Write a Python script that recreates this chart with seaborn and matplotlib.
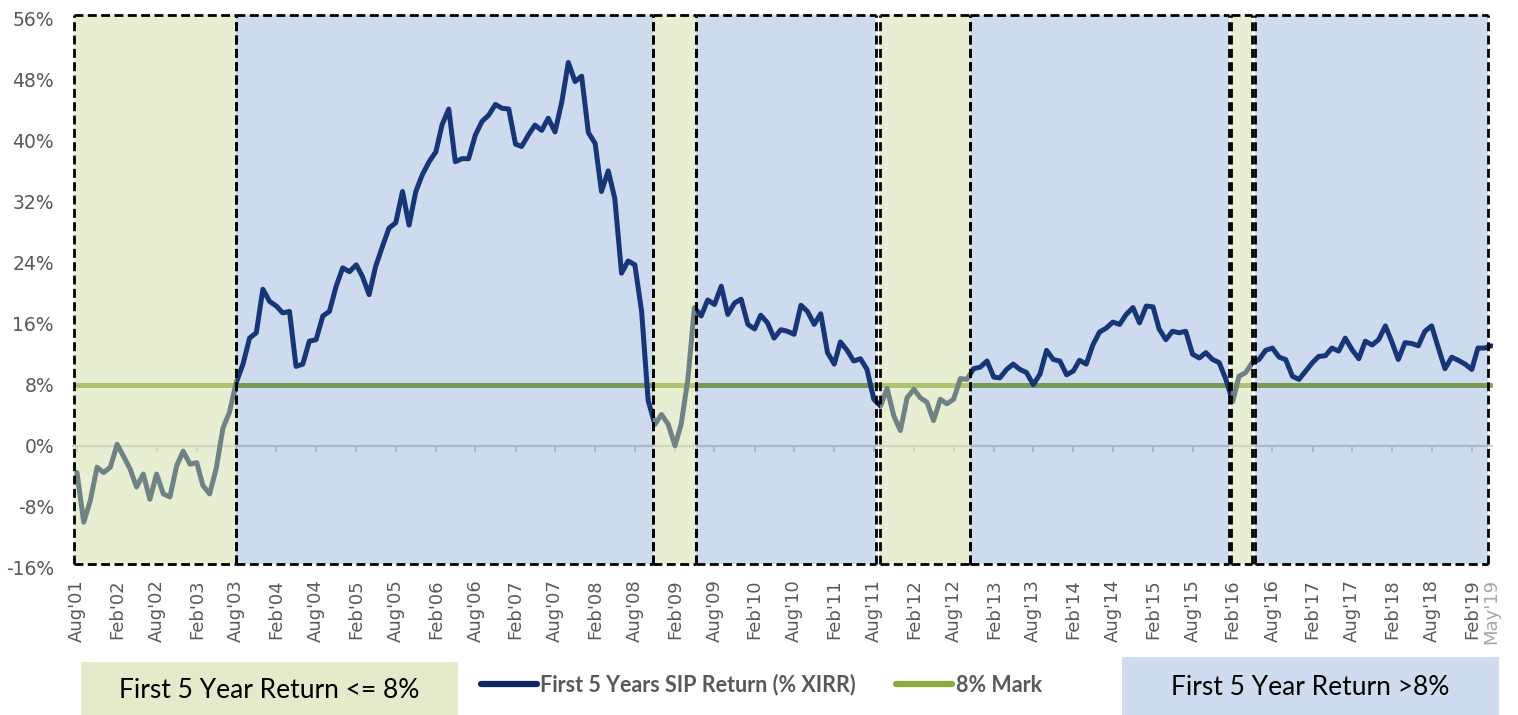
import pandas as pd
import matplotlib.pyplot as plt
import matplotlib.dates as mdates
from matplotlib.patches import Rectangle
from matplotlib.lines import Line2D
import seaborn as sns

sns.set_style('white')
plt.rcParams['font.family'] = ['DejaVu Sans']

# ---------------- data ----------------
# monthly first-5-year SIP XIRR (%), Aug'01 .. May'19
start_month = '2001-08-01'
end_month = '2019-05-01'
sip_return = [
    -3.5, -10.0, -7.2, -2.8, -3.5, -2.8, 0.2, -1.3, -3.0, -5.4, -3.7, -7.0,
    -3.7, -6.3, -6.7, -2.6, -0.7, -2.4, -2.2, -5.2, -6.3, -3.0, 2.3, 4.4,
    8.3, 10.7, 14.1, 14.8, 20.5, 18.9, 18.3, 17.4, 17.6, 10.4, 10.7, 13.7,
    13.9, 17.0, 17.6, 20.9, 23.3, 22.8, 23.7, 22.2, 19.8, 23.5, 26.1, 28.5,
    29.2, 33.3, 28.9, 33.3, 35.5, 37.2, 38.5, 42.0, 44.1, 37.2, 37.6, 37.6,
    40.7, 42.5, 43.3, 44.7, 44.2, 44.1, 39.5, 39.2, 40.7, 42.0, 41.3, 42.9,
    41.1, 45.0, 50.2, 47.7, 48.4, 41.0, 39.6, 33.3, 36.0, 32.4, 22.6, 24.2,
    23.7, 17.6, 5.9, 2.8, 4.1, 2.8, 0.0, 2.8, 8.7, 18.1, 17.0, 19.1,
    18.5, 20.9, 17.2, 18.7, 19.2, 15.9, 15.3, 17.1, 16.1, 14.1, 15.2, 15.0,
    14.6, 18.4, 17.6, 15.9, 17.3, 12.2, 10.7, 13.6, 12.5, 11.1, 11.4, 10.0,
    6.1, 5.2, 7.5, 3.9, 2.0, 6.3, 7.4, 6.3, 5.7, 3.3, 6.1, 5.5,
    6.1, 8.8, 8.7, 10.1, 10.3, 11.1, 9.0, 8.9, 10.0, 10.7, 10.0, 9.6,
    8.0, 9.4, 12.5, 11.3, 11.1, 9.3, 9.8, 11.2, 10.7, 13.2, 14.9, 15.4,
    16.2, 15.9, 17.2, 18.1, 16.1, 18.3, 18.2, 15.3, 13.9, 15.0, 14.8, 15.0,
    12.0, 11.5, 12.2, 11.3, 10.9, 8.7, 5.8, 9.1, 9.6, 10.9, 11.3, 12.5,
    12.8, 11.6, 11.3, 9.1, 8.7, 9.8, 10.9, 11.7, 11.8, 12.8, 12.4, 14.1,
    12.6, 11.4, 13.7, 13.2, 13.9, 15.7, 13.5, 11.3, 13.5, 13.4, 13.1, 15.0,
    15.7, 12.8, 10.1, 11.6, 11.2, 10.7, 10.0, 12.8, 12.8, 13.1,
]
mark_level = 8.0

# shaded periods: (start, end, kind)  kind: 'low' = <=8%, 'high' = >8%
periods = [
    ('2001-07-18', '2003-07-30', 'low'),
    ('2003-07-30', '2008-10-22', 'high'),
    ('2008-10-22', '2009-05-07', 'low'),
    ('2009-05-07', '2011-08-10', 'high'),
    ('2011-08-28', '2012-10-13', 'low'),
    ('2012-10-13', '2016-01-16', 'high'),
    ('2016-01-24', '2016-05-01', 'low'),
    ('2016-05-13', '2019-04-16', 'high'),
]

y_ticks = [-16, -8, 0, 8, 16, 24, 32, 40, 48, 56]
series_label = 'First 5 Years SIP Return (% XIRR)'
mark_label = '8% Mark'
low_label = 'First 5 Year Return <= 8%'
high_label = 'First 5 Year Return >8%'

months = pd.date_range(start_month, end_month, freq='MS')
df = pd.DataFrame({'month': months, 'xirr': sip_return})
df['mark'] = mark_level

# colours
navy = '#0F2864'
olive = '#8DAA3C'
low_fill = (209 / 255, 223 / 255, 165 / 255, 0.5)
high_fill = (46 / 255, 103 / 255, 185 / 255, 0.23)
tick_grey = '#595959'

# ---------------- figure ----------------
fig = plt.figure(figsize=(15.18, 7.15), dpi=100)
ax = fig.add_axes([0.0474, 0.2056, 0.9361, 0.7797])

ax.axhline(0, color='#D0D0D0', lw=1.6, zorder=1)
sns.lineplot(data=df, x='month', y='mark', color=olive, lw=3.6,
             solid_capstyle='round', ax=ax, zorder=2)
sns.lineplot(data=df, x='month', y='xirr', color=navy, lw=3.6,
             solid_joinstyle='round', solid_capstyle='round', ax=ax, zorder=2.5)

# shaded boxes drawn over the lines (semi transparent), dashed borders
box_lo, box_hi = -15.5, 56.4
dash = (0, (3.2, 1.6))
for s, e, kind in periods:
    x0 = mdates.date2num(pd.Timestamp(s))
    x1 = mdates.date2num(pd.Timestamp(e))
    fc = low_fill if kind == 'low' else high_fill
    ax.add_patch(Rectangle((x0, box_lo), x1 - x0, box_hi - box_lo, facecolor=fc,
                           edgecolor='none', zorder=3))
    ax.vlines([x0, x1], box_lo, box_hi, colors='black', lw=2.0,
              linestyles=dash, zorder=4)
    ax.hlines([box_lo, box_hi], x0, x1, colors='black', lw=2.0,
              linestyles=dash, zorder=4)

ax.set_xlim(pd.Timestamp('2001-07-09'), pd.Timestamp('2019-05-09'))
ax.set_ylim(-16, 57)

# x ticks every six months plus the last month
tick_dates = list(months[::6]) + [months[-1]]
ax.set_xticks(tick_dates)
ax.set_xticklabels([d.strftime("%b'%y") for d in tick_dates], rotation=90,
                   fontsize=13, color=tick_grey)
ax.get_xticklabels()[-1].set_color('#A6A6A6')
ax.set_yticks(y_ticks)
ax.set_yticklabels([f'{v}%' for v in y_ticks], fontsize=13.5, color=tick_grey)
ax.tick_params(axis='x', length=0, pad=8)
ax.tick_params(axis='y', length=0, pad=13)
ax.set_xlabel('')
ax.set_ylabel('')
for sp in ax.spines.values():
    sp.set_visible(False)

# small tick marks on the zero line
zero_axis = ax.secondary_xaxis((0 + 16) / 73)
zero_axis.set_xticks(tick_dates[:-1])
zero_axis.tick_params(length=4, width=1.3, color='#C9CCD2', labelbottom=False)
zero_axis.spines['bottom'].set_visible(False)

if ax.get_legend() is not None:
    ax.get_legend().remove()

# ---------------- legend ----------------
handles = [Line2D([], [], color=navy, lw=4.5, solid_capstyle='round'),
           Line2D([], [], color=olive, lw=4.5, solid_capstyle='round')]
fig.legend(handles, [series_label, mark_label], loc='center',
           bbox_to_anchor=(0.5014, 0.042), ncol=2, frameon=False,
           handlelength=2.6, handletextpad=0.15, columnspacing=1.9,
           labelcolor=tick_grey,
           prop={'family': 'Lato', 'weight': 'bold', 'size': 15.5})

fig.add_artist(Rectangle((0.0534, 0.0), 0.2484, 0.0741, transform=fig.transFigure,
                         facecolor='#E3EBCB', edgecolor='none'))
fig.text(0.1775, 0.034, low_label, ha='center', va='center',
         family='Lato', fontsize=19, color='black')
fig.add_artist(Rectangle((0.7391, 0.0), 0.2484, 0.0811, transform=fig.transFigure,
                         facecolor='#CFDCEF', edgecolor='none'))
fig.text(0.863, 0.038, high_label, ha='center', va='center',
         family='Lato', fontsize=19, color='black')

fig.savefig('out.png', dpi=100)
